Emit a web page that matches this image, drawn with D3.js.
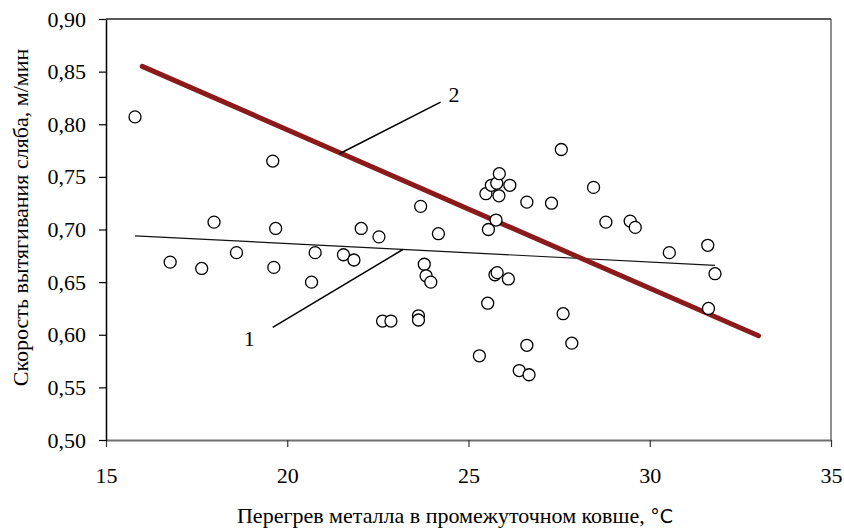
<!DOCTYPE html>
<html>
<head>
<meta charset="utf-8">
<script src="https://cdn.jsdelivr.net/npm/d3@7"></script>
<style>
  body { margin: 0; background: #fff; }
  svg { display: block; }
  .axis text { font-family: "Liberation Serif", "Times New Roman", serif; font-size: 22px; fill: #000; }
  .title { font-family: "Liberation Serif", "Times New Roman", serif; font-size: 22px; fill: #000; }
</style>
</head>
<body>
<div id="chart"></div>
<script>
// measured points: overheating (°C) vs casting speed (m/min)
const overheat = [15.80, 16.77, 17.64, 17.98, 18.60, 19.60, 19.63, 19.68, 20.67, 20.77,
  21.55, 21.84, 22.04, 22.53, 22.63, 22.86, 23.62, 23.62, 23.68, 23.78,
  23.83, 23.96, 24.17, 25.30, 25.48, 25.53, 25.55, 25.63, 25.73, 25.76,
  25.78, 25.79, 25.84, 25.85, 26.10, 26.14, 26.40, 26.61, 26.61, 26.67,
  27.29, 27.56, 27.61, 27.85, 28.45, 28.79, 29.46, 29.60, 30.54, 31.60,
  31.62, 31.80];
const speed = [0.807, 0.669, 0.663, 0.707, 0.678, 0.765, 0.664, 0.701, 0.650, 0.678,
  0.676, 0.671, 0.701, 0.693, 0.613, 0.613, 0.618, 0.614, 0.722, 0.667,
  0.656, 0.650, 0.696, 0.580, 0.734, 0.630, 0.700, 0.742, 0.657, 0.709,
  0.744, 0.659, 0.732, 0.753, 0.653, 0.742, 0.566, 0.726, 0.590, 0.562,
  0.725, 0.776, 0.620, 0.592, 0.740, 0.707, 0.708, 0.702, 0.678, 0.685,
  0.625, 0.658];

// line 1: trend of the measured data, line 2: recommended dependence
const line1 = [[15.8, 0.694], [31.8, 0.666]];
const line2 = [[16.0, 0.855], [33.0, 0.599]];

// leader lines for the labels "1" and "2"
const labels = ['1', '2'];
const leaders = [
  [[19.6, 0.607], [23.19, 0.681]],
  [[21.44, 0.772], [24.23, 0.821]]
];
const labelPos = [[18.95, 0.594], [24.6, 0.826]];

const xTicks = [15, 20, 25, 30, 35];
const yTicks = [0.50, 0.55, 0.60, 0.65, 0.70, 0.75, 0.80, 0.85, 0.90];

const width = 844, height = 528;
const margin = {top: 19, right: 13, bottom: 88, left: 106};

const svg = d3.select('#chart').append('svg')
  .attr('width', width)
  .attr('height', height);

const x = d3.scaleLinear().domain([15, 35]).range([margin.left, width - margin.right]);
const y = d3.scaleLinear().domain([0.5, 0.9]).range([height - margin.bottom, margin.top]);

const fmt = d => d3.format('.2f')(d).replace('.', ',');

// frame: top and right border
svg.append('line')
  .attr('x1', x(15)).attr('x2', x(35))
  .attr('y1', y(0.9)).attr('y2', y(0.9))
  .attr('stroke', '#222').attr('stroke-width', 1.3);
svg.append('line')
  .attr('x1', x(35)).attr('x2', x(35))
  .attr('y1', y(0.9)).attr('y2', y(0.5))
  .attr('stroke', '#555').attr('stroke-width', 1.3);

const xAxis = svg.append('g')
  .attr('class', 'axis axis-x')
  .attr('transform', `translate(0, ${y(0.5)})`)
  .call(d3.axisBottom(x).tickValues(xTicks).tickSize(7).tickSizeOuter(0).tickPadding(20).tickFormat(d3.format('d')));
xAxis.select('.domain').attr('stroke', '#6e6e6e').attr('stroke-width', 2);
xAxis.selectAll('.tick line').attr('stroke', '#333').attr('stroke-width', 1.2);

const yAxis = svg.append('g')
  .attr('class', 'axis axis-y')
  .attr('transform', `translate(${x(15)}, 0)`)
  .call(d3.axisLeft(y).tickValues(yTicks).tickSize(7).tickSizeOuter(0).tickPadding(13).tickFormat(fmt));
yAxis.select('.domain').attr('stroke', '#000').attr('stroke-width', 1.5);
yAxis.selectAll('.tick line').attr('stroke', '#000').attr('stroke-width', 1.2);

const path = d3.line().x(d => x(d[0])).y(d => y(d[1]));

svg.append('path')
  .datum(line1)
  .attr('d', path)
  .attr('fill', 'none')
  .attr('stroke', '#111')
  .attr('stroke-width', 1.2);

svg.append('path')
  .datum(line2)
  .attr('d', path)
  .attr('fill', 'none')
  .attr('stroke', '#8B1A1A')
  .attr('stroke-width', 5)
  .attr('stroke-linecap', 'round');

leaders.forEach(l => {
  svg.append('path')
    .datum(l)
    .attr('d', path)
    .attr('fill', 'none')
    .attr('stroke', '#000')
    .attr('stroke-width', 1.5);
});

svg.selectAll('.lbl')
  .data(labels)
  .join('text')
  .attr('class', 'title lbl')
  .attr('x', (d, i) => x(labelPos[i][0]))
  .attr('y', (d, i) => y(labelPos[i][1]))
  .attr('text-anchor', 'middle')
  .attr('dominant-baseline', 'middle')
  .text(d => d);

svg.selectAll('.pt')
  .data(overheat)
  .join('circle')
  .attr('class', 'pt')
  .attr('cx', d => x(d))
  .attr('cy', (d, i) => y(speed[i]))
  .attr('r', 6)
  .attr('fill', '#fff')
  .attr('stroke', '#000')
  .attr('stroke-width', 1.3);

svg.append('text')
  .attr('class', 'title')
  .attr('transform', `translate(23, ${(y(0.9) + y(0.5)) / 2 - 12}) rotate(-90)`)
  .attr('text-anchor', 'middle')
  .attr('dominant-baseline', 'middle')
  .text('Скорость вытягивания сляба, м/мин');

const xt = svg.append('text')
  .attr('class', 'title')
  .attr('x', 455)
  .attr('y', 523)
  .attr('text-anchor', 'middle')
  .text('Перегрев металла в промежуточном ковше, ');
xt.append('tspan')
  .style('font-family', '"DejaVu Sans", sans-serif')
  .style('font-size', '19px')
  .text('°C');
</script>
</body>
</html>
